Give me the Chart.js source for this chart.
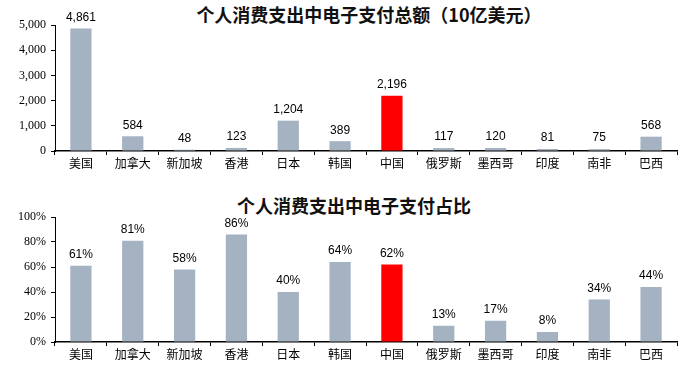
<!DOCTYPE html>
<html><head><meta charset="utf-8">
<script src="https://cdn.jsdelivr.net/npm/chart.js@4"></script>
<style>
html,body{margin:0;padding:0;background:#fff;}
#wrap{position:relative;width:691px;height:374px;overflow:hidden;}
canvas{position:absolute;left:0;}
.ttl{position:absolute;font-family:"Noto Sans CJK SC","Liberation Sans",sans-serif;font-weight:bold;font-size:18px;color:#111;white-space:nowrap;transform:translateX(-50%);line-height:20px;}
</style></head>
<body><div id="wrap">
<div class="ttl" id="t1" style="left:369px;top:4px;">个人消费支出中电子支付总额（10亿美元）</div>
<div class="ttl" id="t2" style="left:354px;top:195px;">个人消费支出中电子支付占比</div>
<canvas id="c1" width="691" height="187" style="top:0;width:691px;height:187px;"></canvas>
<canvas id="c2" width="691" height="187" style="top:187px;width:691px;height:187px;"></canvas>
</div>
<script>
const categories = ["美国","加拿大","新加坡","香港","日本","韩国","中国","俄罗斯","墨西哥","印度","南非","巴西"];
const totalValues = [4861,584,48,123,1204,389,2196,117,120,81,75,568];
const shareValues = [61,81,58,86,40,64,62,13,17,8,34,44];
const totalTicks = [0,1000,2000,3000,4000,5000];
const shareTicks = [0,20,40,60,80,100];
const highlight = "中国";

const grey = "#A5B2C1", red = "#FF0000";
const colors = categories.map(c => c === highlight ? red : grey);

const labelPlugin = {
  id: 'valLabels',
  afterDatasetsDraw(chart, args, opts) {
    const ctx = chart.ctx;
    const meta = chart.getDatasetMeta(0);
    ctx.save();
    ctx.font = '12px "Liberation Sans", Arial, sans-serif';
    ctx.fillStyle = '#000';
    ctx.textAlign = 'center';
    ctx.textBaseline = 'bottom';
    meta.data.forEach((bar, i) => {
      const v = chart.data.datasets[0].data[i];
      ctx.fillText(opts.fmt(v), bar.x, bar.y - 5);
    });
    ctx.restore();
  }
};

function makeChart(id, data, ticks, max, fmtTick, fmtLabel, padTop, xHeight) {
  return new Chart(document.getElementById(id), {
    type: 'bar',
    data: { labels: categories, datasets: [{ data: data, backgroundColor: colors, borderWidth: 0, barPercentage: 0.41, categoryPercentage: 1 }] },
    options: {
      responsive: false, animation: false,
      layout: { padding: { top: padTop, right: 14, left: 0, bottom: 0 } },
      plugins: { legend: { display: false }, tooltip: { enabled: false }, valLabels: { fmt: fmtLabel } },
      scales: {
        x: {
          offset: true,
          afterFit(s) { s.height = xHeight; },
          grid: { display: true, offset: true, drawOnChartArea: false, drawTicks: true, tickLength: 4, color: '#000', lineWidth: 1 },
          border: { display: true, color: '#000', width: 1.5 },
          ticks: { color: '#000', font: { family: '"Noto Sans CJK SC", sans-serif', size: 12 }, padding: 1, maxRotation: 0, autoSkip: false }
        },
        y: {
          min: 0, max: max,
          afterFit(s) { s.width = 55; },
          afterBuildTicks(s) { s.ticks = ticks.map(v => ({ value: v })); },
          grid: { display: true, drawOnChartArea: false, drawTicks: true, tickLength: 4, color: '#000' },
          border: { display: true, color: '#000', width: 1 },
          ticks: { color: '#000', font: { family: '"Liberation Serif", "Times New Roman", serif', size: 12 }, padding: 5, callback: fmtTick }
        }
      }
    },
    plugins: [labelPlugin]
  });
}

makeChart('c1', totalValues, totalTicks, 5000,
  v => v.toLocaleString('en-US'), v => v.toLocaleString('en-US'), 25, 36);
makeChart('c2', shareValues, shareTicks, 100,
  v => v + '%', v => v + '%', 30, 32);
</script>
</body></html>
